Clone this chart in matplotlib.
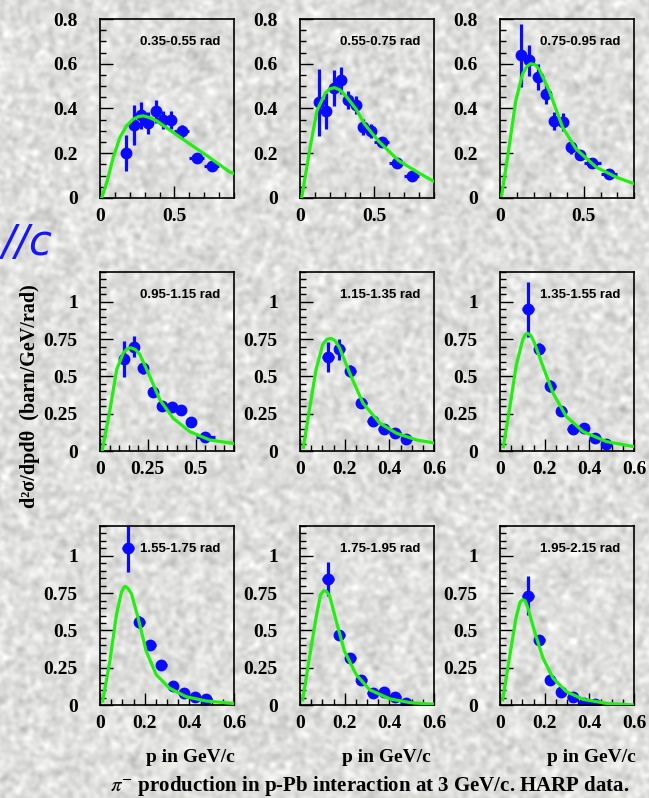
import numpy as np
import matplotlib.pyplot as plt
from matplotlib.ticker import MultipleLocator

plt.rcParams['mathtext.fontset'] = 'stix'

# momentum bins (GeV/c)
bin_edges = [0.10, 0.15, 0.20, 0.25, 0.30, 0.35, 0.40, 0.45, 0.50, 0.60, 0.70, 0.80]

angles = ['0.35-0.55 rad', '0.55-0.75 rad', '0.75-0.95 rad',
          '0.95-1.15 rad', '1.15-1.35 rad', '1.35-1.55 rad',
          '1.55-1.75 rad', '1.75-1.95 rad', '1.95-2.15 rad']
first_bin = [1, 0, 0, 0, 0, 0, 0, 0, 0]

# cross sections, barn/GeV/rad
xsec = [
    [0.20, 0.325, 0.37, 0.335, 0.387, 0.347, 0.347, 0.298, 0.18, 0.145],
    [0.427, 0.39, 0.49, 0.527, 0.437, 0.416, 0.318, 0.30, 0.249, 0.156, 0.098],
    [0.637, 0.616, 0.541, 0.464, 0.345, 0.338, 0.227, 0.19, 0.156, 0.108],
    [0.618, 0.699, 0.557, 0.393, 0.299, 0.297, 0.276, 0.193, 0.097],
    [0.629, 0.681, 0.539, 0.321, 0.204, 0.146, 0.124, 0.083],
    [0.951, 0.681, 0.438, 0.265, 0.146, 0.153, 0.085, 0.045],
    [1.05, 0.558, 0.40, 0.271, 0.129, 0.079, 0.056, 0.038],
    [0.847, 0.47, 0.316, 0.169, 0.079, 0.084, 0.052, 0.015],
    [0.734, 0.433, 0.165, 0.084, 0.056, 0.016, 0.008],
]
xsec_err = [
    [0.08, 0.09, 0.06, 0.05, 0.05, 0.04, 0.04, 0.03, 0.02, 0.02],
    [0.15, 0.08, 0.08, 0.06, 0.04, 0.04, 0.035, 0.03, 0.02, 0.02, 0.015],
    [0.14, 0.07, 0.06, 0.045, 0.04, 0.04, 0.03, 0.02, 0.015, 0.015],
    [0.12, 0.07, 0.04, 0.03, 0.02, 0.02, 0.02, 0.02, 0.015],
    [0.10, 0.07, 0.04, 0.03, 0.02, 0.02, 0.02, 0.015],
    [0.185, 0.04, 0.04, 0.03, 0.02, 0.02, 0.015, 0.015],
    [0.16, 0.04, 0.03, 0.03, 0.02, 0.015, 0.015, 0.01],
    [0.115, 0.03, 0.03, 0.02, 0.015, 0.015, 0.01, 0.01],
    [0.13, 0.03, 0.02, 0.02, 0.015, 0.01, 0.01],
]

# model curves
model_p = [
    [0.011, 0.05, 0.089, 0.134, 0.179, 0.224, 0.26, 0.291, 0.33, 0.38, 0.492, 0.604, 0.716, 0.872, 0.9],
    [0.011, 0.068, 0.114, 0.171, 0.2, 0.233, 0.27, 0.308, 0.377, 0.434, 0.525, 0.662, 0.80, 0.9],
    [0.01, 0.054, 0.094, 0.134, 0.16, 0.184, 0.21, 0.234, 0.294, 0.374, 0.454, 0.574, 0.694, 0.8],
    [0.012, 0.052, 0.087, 0.122, 0.142, 0.161, 0.185, 0.208, 0.26, 0.3125, 0.382, 0.469, 0.573, 0.7],
    [0.015, 0.042, 0.072, 0.102, 0.12, 0.139, 0.157, 0.177, 0.222, 0.282, 0.357, 0.432, 0.522, 0.6],
    [0.015, 0.042, 0.072, 0.102, 0.114, 0.124, 0.138, 0.154, 0.192, 0.237, 0.297, 0.372, 0.477, 0.6],
    [0.012, 0.044, 0.074, 0.096, 0.106, 0.114, 0.126, 0.141, 0.17, 0.207, 0.252, 0.311, 0.385, 0.474, 0.6],
    [0.012, 0.042, 0.072, 0.092, 0.106, 0.118, 0.132, 0.162, 0.199, 0.252, 0.312, 0.402, 0.492, 0.6],
    [0.012, 0.042, 0.072, 0.09, 0.102, 0.113, 0.124, 0.154, 0.192, 0.237, 0.297, 0.372, 0.477, 0.6],
]
model_y = [
    [0.0, 0.08, 0.182, 0.271, 0.323, 0.353, 0.364, 0.367, 0.36, 0.345, 0.293, 0.241, 0.19, 0.116, 0.11],
    [0.0, 0.227, 0.39, 0.47, 0.488, 0.493, 0.482, 0.456, 0.397, 0.33, 0.256, 0.167, 0.111, 0.074],
    [0.012, 0.227, 0.434, 0.553, 0.588, 0.60, 0.596, 0.575, 0.478, 0.316, 0.219, 0.138, 0.093, 0.064],
    [0.007, 0.276, 0.546, 0.658, 0.685, 0.692, 0.68, 0.647, 0.501, 0.344, 0.22, 0.13, 0.074, 0.05],
    [0.025, 0.276, 0.546, 0.715, 0.748, 0.755, 0.74, 0.692, 0.524, 0.321, 0.187, 0.119, 0.074, 0.054],
    [0.029, 0.276, 0.569, 0.748, 0.78, 0.789, 0.775, 0.726, 0.569, 0.389, 0.231, 0.13, 0.063, 0.029],
    [0.027, 0.293, 0.609, 0.756, 0.787, 0.795, 0.78, 0.745, 0.587, 0.361, 0.203, 0.113, 0.056, 0.027, 0.01],
    [0.034, 0.316, 0.587, 0.738, 0.767, 0.762, 0.734, 0.564, 0.361, 0.203, 0.102, 0.041, 0.016, 0.005],
    [0.034, 0.316, 0.587, 0.69, 0.706, 0.698, 0.655, 0.497, 0.316, 0.181, 0.09, 0.038, 0.011, 0.0],
]

# axis ranges per panel / row
x_max = [0.9, 0.9, 0.8, 0.7, 0.6, 0.6, 0.6, 0.6, 0.6]
y_max = [0.8, 1.2, 1.2]

W, H = 649, 798
fig = plt.figure(figsize=(W / 100, H / 100), dpi=100)

# grainy grey backdrop
rng = np.random.default_rng(7)
noise = rng.normal(size=(H, W))
ky = np.fft.fftfreq(H)[:, None]
kx = np.fft.fftfreq(W)[None, :]
noise = np.real(np.fft.ifft2(np.fft.fft2(noise) * np.exp(-(kx ** 2 + ky ** 2) * 2 * (np.pi * 2.2) ** 2)))
noise = noise / noise.std()
bg = np.clip(0.875 + 0.035 * noise, 0, 1)
fig.figimage(np.dstack([bg, bg, bg * 0.995]), xo=0, yo=0, origin='upper', zorder=-10)

col_left = [100, 300, 500]
row_top = [19, 272, 526]
ax_w, ax_h = 134, 179

centers = [(a + b) / 2 for a, b in zip(bin_edges[:-1], bin_edges[1:])]
halfw = [(b - a) / 2 for a, b in zip(bin_edges[:-1], bin_edges[1:])]

tick_font = dict(family='Liberation Serif', weight='bold', size=14)


def fmt(v, _):
    return '0' if abs(v) < 1e-9 else f'{v:g}'


for i in range(9):
    r, c = divmod(i, 3)
    ax = fig.add_axes([col_left[c] / W, 1 - (row_top[r] + ax_h) / H, ax_w / W, ax_h / H])
    ax.set_facecolor('none')
    n = len(xsec[i])
    p = centers[first_bin[i]:first_bin[i] + n]
    dp = halfw[first_bin[i]:first_bin[i] + n]

    ax.plot(model_p[i], model_y[i], color='#22ee11', lw=2.3, zorder=3, solid_joinstyle='round')
    ax.errorbar(p, xsec[i], yerr=xsec_err[i], xerr=dp, fmt='o', color='#0a0aff',
                ms=7.5, elinewidth=2.3, capsize=0, zorder=2)

    ax.set_xlim(0, x_max[i])
    ax.set_ylim(0, y_max[r])
    if r == 0:
        ax.xaxis.set_major_locator(MultipleLocator(0.5))
        ax.xaxis.set_minor_locator(MultipleLocator(0.1))
        ax.yaxis.set_major_locator(MultipleLocator(0.2))
    else:
        ax.xaxis.set_major_locator(MultipleLocator(0.25 if i == 3 else 0.2))
        ax.xaxis.set_minor_locator(MultipleLocator(0.05))
        ax.yaxis.set_major_locator(MultipleLocator(0.25))
    ax.yaxis.set_minor_locator(MultipleLocator(0.05))

    ax.xaxis.set_major_formatter(plt.FuncFormatter(fmt))
    ax.yaxis.set_major_formatter(plt.FuncFormatter(fmt))
    ax.tick_params(which='both', direction='in', top=False, right=False, width=1, color='black')
    ax.tick_params(which='major', length=9)
    ax.tick_params(which='minor', length=4.5)
    ax.tick_params(axis='y', which='major', pad=16)
    ax.tick_params(axis='x', which='major', pad=7)
    for lab in ax.get_xticklabels() + ax.get_yticklabels():
        lab.set_fontproperties(tick_font)
    for s in ax.spines.values():
        s.set_linewidth(1.2)

    ax.text(0.6, 0.87, angles[i], transform=ax.transAxes, ha='center', va='center',
            family='Liberation Sans', weight='bold', size=9.5, zorder=5)

for cx in [190, 386, 591]:
    fig.text(cx / W, 1 - 757 / H, 'p in GeV/c', ha='center', va='center', **tick_font)

fig.text(370 / W, 1 - 786 / H, r'$\pi^{-}$ production in p-Pb interaction at 3 GeV/c. HARP data.',
         ha='center', va='center', family='Liberation Serif', weight='bold', size=15)

fig.text(30 / W, 1 - 396 / H, 'd²σ/dpdθ  (barn/GeV/rad)', rotation=90, ha='center', va='center',
         family='Liberation Serif', weight='bold', size=14.5)

fig.text(0.002, 1 - 243 / H, '//c', ha='left', va='center', color='#1515ff',
         family='DejaVu Sans', style='italic', size=30)

fig.savefig('out.png', dpi=100)
